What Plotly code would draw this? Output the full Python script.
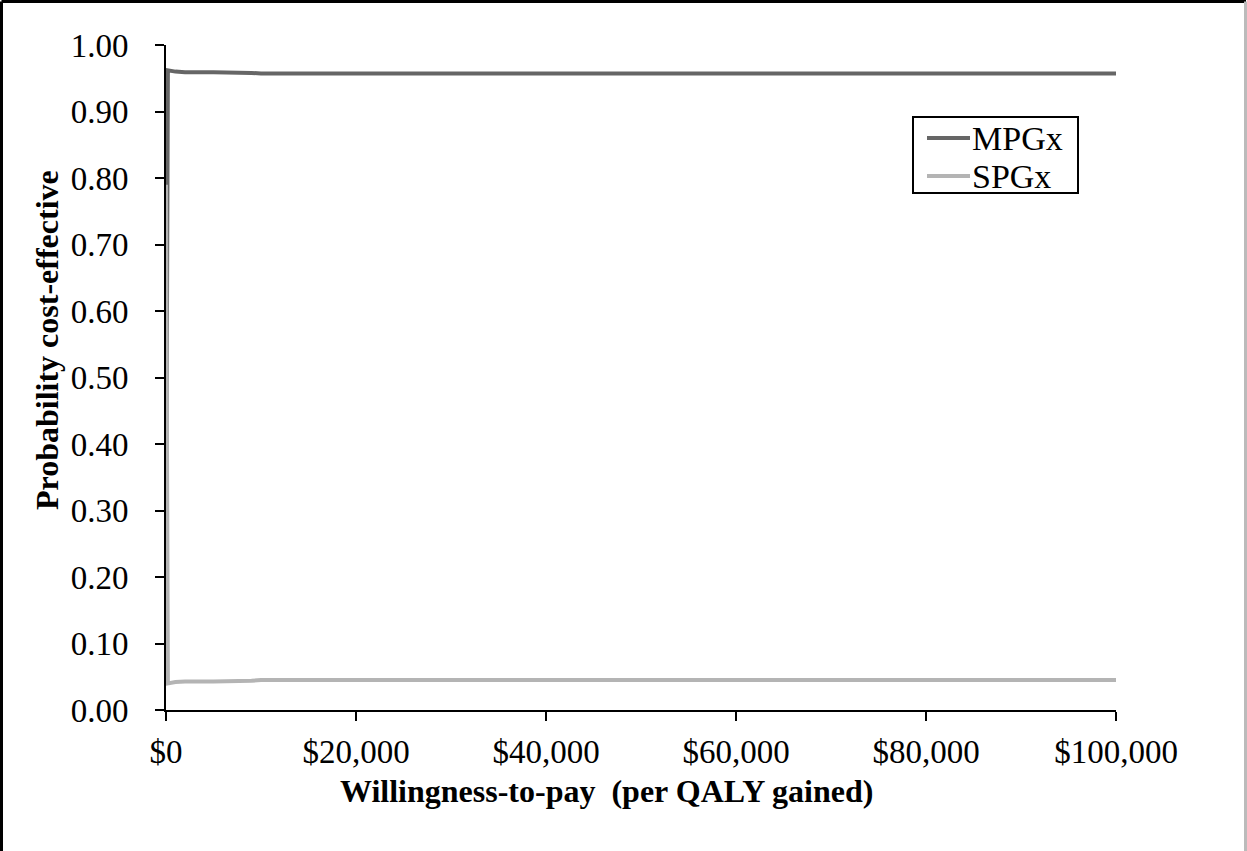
import plotly.graph_objects as go

# Data
wtp = [0, 200, 1000, 2000, 5000, 8000, 9000, 10000, 20000, 30000, 40000,
       50000, 60000, 70000, 80000, 90000, 100000]
mpgx = [0.21, 0.962, 0.960, 0.959, 0.959, 0.959, 0.958, 0.957, 0.957, 0.957, 0.957,
        0.957, 0.957, 0.957, 0.957, 0.957, 0.957]
spgx = [0.79, 0.040, 0.042, 0.043, 0.043, 0.043, 0.044, 0.045, 0.045, 0.045, 0.045,
        0.045, 0.045, 0.045, 0.045, 0.045, 0.045]
series_names = ["MPGx", "SPGx"]
series_colors = ["#666666", "#b4b4b4"]

x_tickvals = [0, 20000, 40000, 60000, 80000, 100000]
x_ticktext = ["$0", "$20,000", "$40,000", "$60,000", "$80,000", "$100,000"]
y_tickvals = [0.0, 0.1, 0.2, 0.3, 0.4, 0.5, 0.6, 0.7, 0.8, 0.9, 1.0]
y_ticktext = ["0.00", "0.10", "0.20", "0.30", "0.40", "0.50", "0.60", "0.70",
              "0.80", "0.90", "1.00"]
x_title = "Willingness-to-pay  (per QALY gained)"
y_title = "Probability cost-effective"

FONT = "Liberation Serif, Times New Roman, serif"
W, H = 1247, 851
L, R, T, B = 166, 131, 45, 141
pw, ph = W - L - R, H - T - B


def px_x(p):
    return (p - L) / pw


def px_y(p):
    return (H - B - p) / ph


fig = go.Figure()
for name, ys, col in zip(series_names, [mpgx, spgx], series_colors):
    fig.add_trace(go.Scatter(x=wtp, y=ys, mode="lines", name=name,
                             line=dict(color=col, width=4), showlegend=False,
                             hoverinfo="skip"))

# outer chart border
fig.add_shape(type="line", xref="paper", yref="paper",
              x0=px_x(1.5), x1=px_x(1.5), y0=px_y(860), y1=px_y(1.5),
              line=dict(color="black", width=3))
fig.add_shape(type="line", xref="paper", yref="paper",
              x0=px_x(1.5), x1=px_x(1246), y0=px_y(1.5), y1=px_y(1.5),
              line=dict(color="black", width=3))
fig.add_shape(type="line", xref="paper", yref="paper",
              x0=px_x(1245.5), x1=px_x(1245.5), y0=px_y(860), y1=px_y(1.5),
              line=dict(color="#bbbbbb", width=3))

# legend (box, keys, labels)
fig.add_shape(type="rect", xref="paper", yref="paper",
              x0=px_x(913), x1=px_x(1078), y0=px_y(193), y1=px_y(117),
              line=dict(color="black", width=2), fillcolor="white", layer="above")
for i, (name, col) in enumerate(zip(series_names, series_colors)):
    yk = [138, 176][i]
    fig.add_shape(type="line", xref="paper", yref="paper",
                  x0=px_x(927), x1=px_x(970), y0=px_y(yk), y1=px_y(yk),
                  line=dict(color=col, width=4), layer="above")
    fig.add_annotation(xref="paper", yref="paper", x=px_x(970), y=px_y(yk + 1),
                       xanchor="left", yanchor="middle", showarrow=False,
                       text=name, font=dict(family=FONT, size=34, color="black"))

# axis titles
fig.add_annotation(xref="paper", yref="paper", x=px_x(606), y=px_y(791),
                   xanchor="center", yanchor="middle", showarrow=False,
                   text="<b>" + x_title + "</b>",
                   font=dict(family=FONT, size=32, color="black"))
fig.add_annotation(xref="paper", yref="paper", x=px_x(47), y=px_y(340),
                   xanchor="center", yanchor="middle", showarrow=False,
                   textangle=-90, text="<b>" + y_title + "</b>",
                   font=dict(family=FONT, size=32, color="black"))

fig.update_layout(
    width=W, height=H,
    margin=dict(l=L, r=R, t=T, b=B, autoexpand=False),
    paper_bgcolor="white", plot_bgcolor="white",
    font=dict(family=FONT, size=33, color="black"),
    showlegend=False,
    hovermode=False,
    xaxis=dict(range=[0, 100000], tickvals=x_tickvals, ticktext=x_ticktext,
               showgrid=False, zeroline=False, showline=True, linecolor="black",
               linewidth=2, ticks="outside", ticklen=9, tickwidth=2,
               tickcolor="black", ticklabelstandoff=2,
               tickfont=dict(family=FONT, size=33, color="black")),
    yaxis=dict(range=[0, 1], tickvals=y_tickvals, ticktext=y_ticktext,
               showgrid=False, zeroline=False, showline=True, linecolor="black",
               linewidth=2, ticks="outside", ticklen=9, tickwidth=2,
               tickcolor="black", ticklabelstandoff=20,
               tickfont=dict(family=FONT, size=33, color="black")),
)

fig.write_html("out.html", config={"displayModeBar": False},
               post_script="document.body.style.margin='0';")
